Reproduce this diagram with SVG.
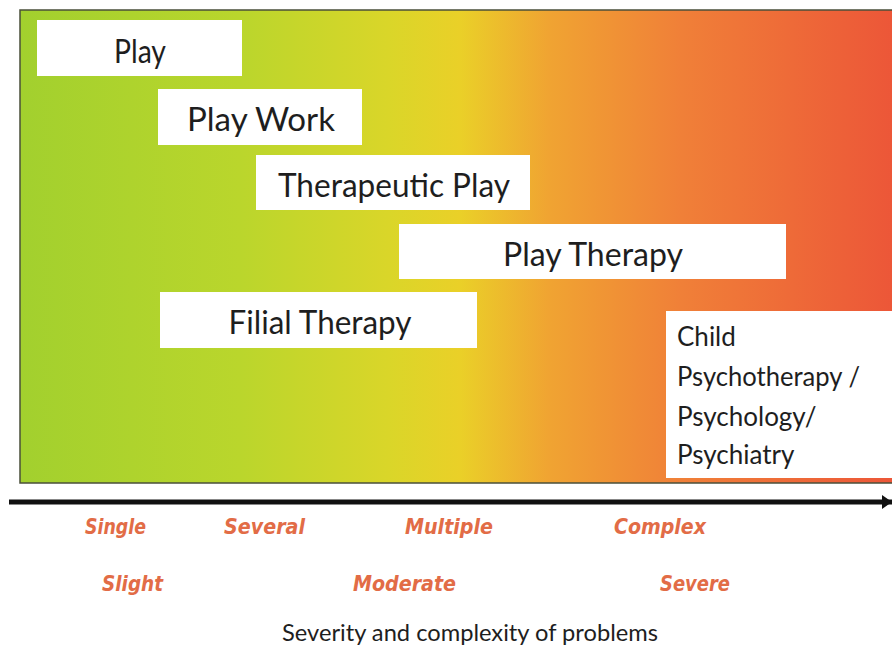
<svg xmlns="http://www.w3.org/2000/svg" width="892" height="652" viewBox="0 0 892 652">
  <defs>
    <linearGradient id="severity" x1="0" y1="0" x2="1" y2="0">
      <stop offset="0" stop-color="#a2d02e"/>
      <stop offset="0.25" stop-color="#bad62c"/>
      <stop offset="0.42" stop-color="#dad629"/>
      <stop offset="0.5" stop-color="#ead028"/>
      <stop offset="0.6" stop-color="#f0a432"/>
      <stop offset="0.75" stop-color="#f08038"/>
      <stop offset="1" stop-color="#ec5538"/>
    </linearGradient>
    <marker id="arrowhead" markerWidth="10" markerHeight="14" refX="10" refY="7" orient="auto" markerUnits="userSpaceOnUse">
      <path d="M0,0 L10,7 L0,14 Z" fill="#111"/>
    </marker>
    <style>
      .box { fill: #ffffff; }
      .label { font-family: Lato, "Open Sans", sans-serif; font-size: 32px; fill: #1e1e1e; text-anchor: middle; }
      .multi { font-family: Lato, "Open Sans", sans-serif; font-size: 26px; fill: #1e1e1e; }
      .scale { font-family: "DejaVu Sans Condensed", "DejaVu Sans", sans-serif; font-size: 22px; font-weight: bold; font-style: italic; fill: #e26c46; }
      .title { font-family: Lato, "Open Sans", sans-serif; font-size: 24px; fill: #1e1e1e; }
    </style>
  </defs>

  <rect width="892" height="652" fill="#ffffff"/>

  <!-- background band: mild to severe -->
  <rect x="20" y="10" width="880" height="473" fill="url(#severity)" stroke="#4a4f3a" stroke-width="1.5"/>

  <g id="play">
    <rect class="box" x="37" y="20" width="205" height="56"/>
    <text class="label" x="140" y="63" textLength="52" lengthAdjust="spacingAndGlyphs">Play</text>
  </g>
  <g id="play-work">
    <rect class="box" x="158" y="89" width="204" height="56"/>
    <text class="label" x="261" y="131" textLength="148" lengthAdjust="spacingAndGlyphs">Play Work</text>
  </g>
  <g id="therapeutic-play">
    <rect class="box" x="256" y="155" width="274" height="55"/>
    <text class="label" x="394" y="197" textLength="232" lengthAdjust="spacingAndGlyphs">Therapeutic Play</text>
  </g>
  <g id="play-therapy">
    <rect class="box" x="399" y="224" width="387" height="55"/>
    <text class="label" x="593" y="266" textLength="180" lengthAdjust="spacingAndGlyphs">Play Therapy</text>
  </g>
  <g id="filial-therapy">
    <rect class="box" x="160" y="292" width="317" height="56"/>
    <text class="label" x="320" y="334" textLength="183" lengthAdjust="spacingAndGlyphs">Filial Therapy</text>
  </g>
  <g id="child-psychotherapy">
    <rect class="box" x="666" y="311" width="226" height="167"/>
    <text class="multi" x="677" y="346">Child</text>
    <text class="multi" x="677" y="386" textLength="183" lengthAdjust="spacingAndGlyphs">Psychotherapy /</text>
    <text class="multi" x="677" y="426">Psychology/</text>
    <text class="multi" x="677" y="464">Psychiatry</text>
  </g>

  <g id="connectors">
    <line x1="9" y1="502" x2="892" y2="502" stroke="#111" stroke-width="5" marker-end="url(#arrowhead)"/>
  </g>

  <g id="scale-labels">
    <text class="scale" x="85" y="534" textLength="61" lengthAdjust="spacingAndGlyphs">Single</text>
    <text class="scale" x="224" y="534" textLength="81" lengthAdjust="spacingAndGlyphs">Several</text>
    <text class="scale" x="405" y="534" textLength="88" lengthAdjust="spacingAndGlyphs">Multiple</text>
    <text class="scale" x="614" y="534" textLength="92" lengthAdjust="spacingAndGlyphs">Complex</text>
    <text class="scale" x="102" y="591" textLength="61" lengthAdjust="spacingAndGlyphs">Slight</text>
    <text class="scale" x="353" y="591" textLength="103" lengthAdjust="spacingAndGlyphs">Moderate</text>
    <text class="scale" x="660" y="591" textLength="70" lengthAdjust="spacingAndGlyphs">Severe</text>
  </g>

  <text class="title" x="282" y="641" textLength="376" lengthAdjust="spacingAndGlyphs">Severity and complexity of problems</text>
</svg>
